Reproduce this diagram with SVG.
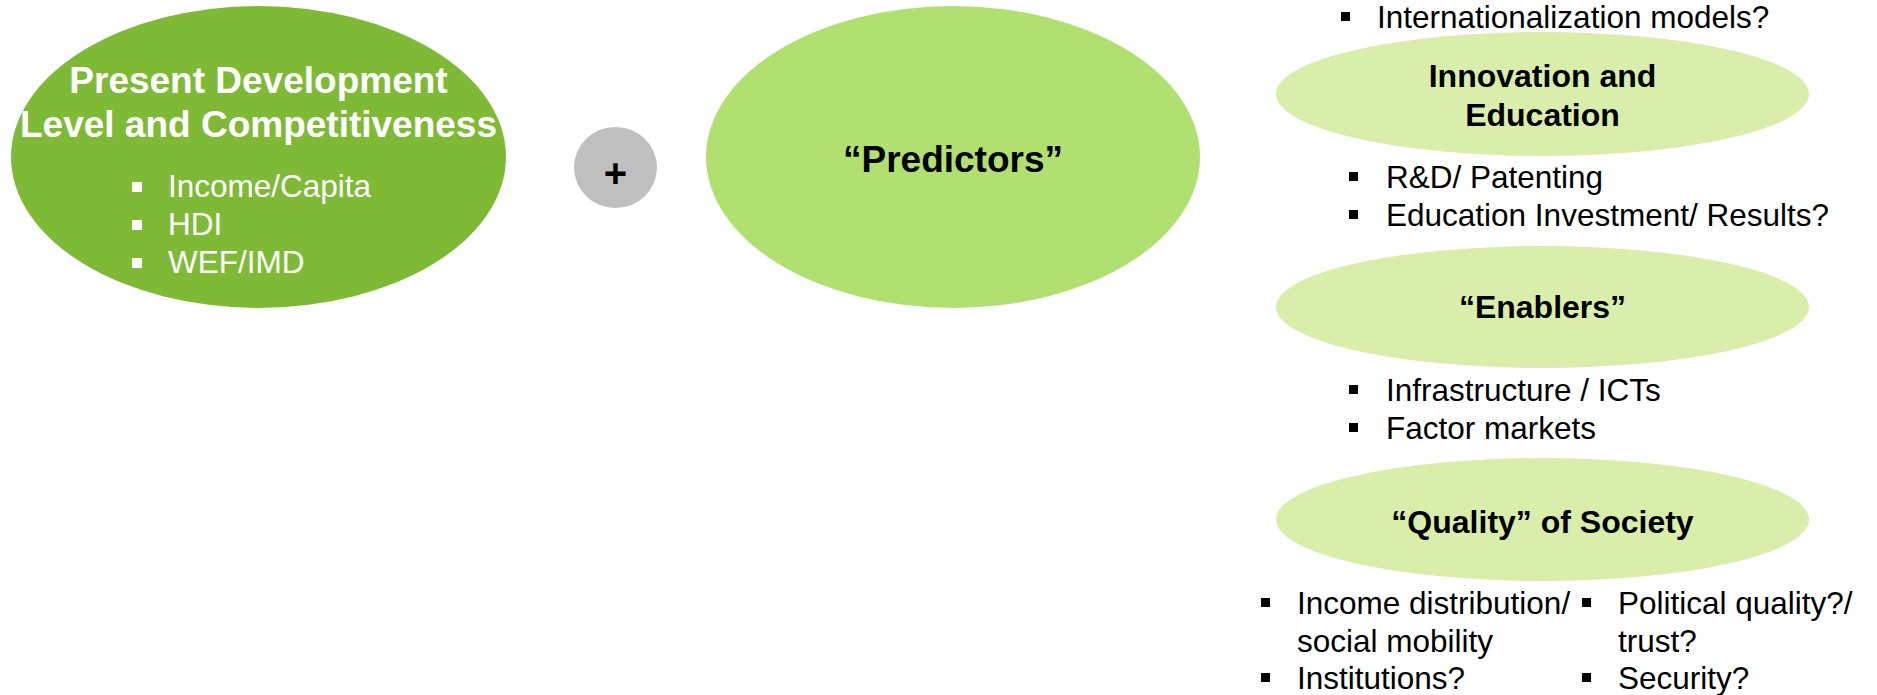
<svg xmlns="http://www.w3.org/2000/svg" width="1877" height="695" viewBox="0 0 1877 695">
<style>
text{font-family:"Liberation Sans",Arial,Helvetica,sans-serif}
.title{font-size:37px;font-weight:bold;text-anchor:middle}
.head{font-size:32px;font-weight:bold;text-anchor:middle;fill:#000}
.item{font-size:31.5px;fill:#000}
.white{fill:#fff}
.bul{fill:#000}
.bulw{fill:#fff}
</style>
<rect width="1877" height="695" fill="#fff"/>
<g id="connectors"/>
<g id="present">
<ellipse cx="258.5" cy="157" rx="247.5" ry="151" fill="#7fba37"/>
<text class="title white" x="258.5" y="93">Present Development</text>
<text class="title white" x="258.5" y="137">Level and Competitiveness</text>
<rect class="bulw" x="132" y="182" width="10" height="10"/>
<text class="item white" x="168" y="197">Income/Capita</text>
<rect class="bulw" x="132" y="220" width="10" height="10"/>
<text class="item white" x="168" y="235">HDI</text>
<rect class="bulw" x="132" y="258" width="10" height="10"/>
<text class="item white" x="168" y="273">WEF/IMD</text>
</g>
<g id="plus">
<ellipse cx="615.5" cy="167.5" rx="41.5" ry="40.5" fill="#bfbfbf"/>
<text x="615.5" y="187" style="font-size:40px;font-weight:bold;text-anchor:middle;fill:#000">+</text>
</g>
<g id="predictors">
<ellipse cx="953" cy="157" rx="247" ry="151" fill="#b0e070"/>
<text class="title" x="953" y="172" fill="#000">“Predictors”</text>
</g>
<g id="internationalization">
<rect class="bul" x="1341" y="12" width="9" height="9"/>
<text class="item" x="1377" y="28">Internationalization models?</text>
</g>
<g id="innovation">
<ellipse cx="1542.5" cy="94" rx="266.5" ry="62" fill="#daeeab"/>
<text class="head" x="1542.5" y="87">Innovation and</text>
<text class="head" x="1542.5" y="126">Education</text>
</g>
<g id="innovation-items">
<rect class="bul" x="1349" y="172" width="9" height="9"/>
<text class="item" x="1386" y="188">R&amp;D/ Patenting</text>
<rect class="bul" x="1349" y="210" width="9" height="9"/>
<text class="item" x="1386" y="226">Education Investment/ Results?</text>
</g>
<g id="enablers">
<ellipse cx="1542.5" cy="307" rx="266.5" ry="61" fill="#daeeab"/>
<text class="head" x="1542.5" y="318">“Enablers”</text>
</g>
<g id="enablers-items">
<rect class="bul" x="1349" y="385" width="9" height="9"/>
<text class="item" x="1386" y="401">Infrastructure / ICTs</text>
<rect class="bul" x="1349" y="423" width="9" height="9"/>
<text class="item" x="1386" y="439">Factor markets</text>
</g>
<g id="quality">
<ellipse cx="1542.5" cy="519.5" rx="266.5" ry="61.5" fill="#daeeab"/>
<text class="head" x="1542.5" y="533">“Quality” of Society</text>
</g>
<g id="quality-items">
<rect class="bul" x="1261" y="598" width="9" height="9"/>
<text class="item" x="1297" y="614">Income distribution/</text>
<text class="item" x="1297" y="652">social mobility</text>
<rect class="bul" x="1261" y="673" width="9" height="9"/>
<text class="item" x="1297" y="689">Institutions?</text>
<rect class="bul" x="1582" y="598" width="9" height="9"/>
<text class="item" x="1618" y="614">Political quality?/</text>
<text class="item" x="1618" y="652">trust?</text>
<rect class="bul" x="1582" y="673" width="9" height="9"/>
<text class="item" x="1618" y="689">Security?</text>
</g>
</svg>
